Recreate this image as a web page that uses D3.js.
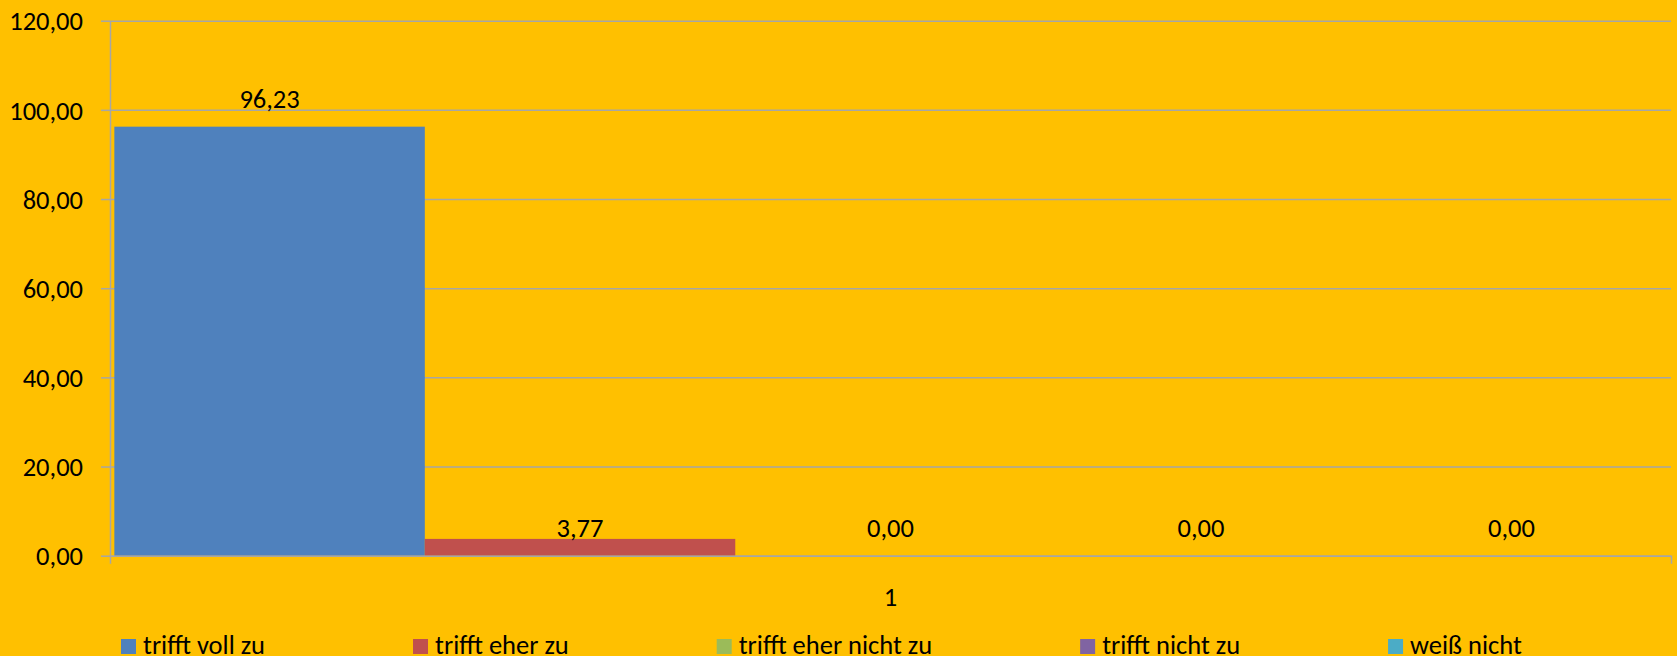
<!DOCTYPE html>
<html>
<head>
<meta charset="utf-8">
<script src="https://cdn.jsdelivr.net/npm/d3@7"></script>
<style>
  html, body { margin: 0; padding: 0; background: #FFC000; }
  svg { display: block; }
  text { font-family: Calibri, Carlito, Lato, sans-serif; fill: #000; }
</style>
</head>
<body>
<svg id="chart" width="1677" height="656"></svg>
<script>
// Chart data
const categories = ['1'];
const seriesNames = ['trifft voll zu', 'trifft eher zu', 'trifft eher nicht zu', 'trifft nicht zu', 'weiß nicht'];
const seriesValues = [96.23, 3.77, 0.00, 0.00, 0.00];
const seriesColors = ['#4F81BD', '#C0504D', '#9BBB59', '#8064A2', '#4BACC6'];
const yTicks = [0, 20, 40, 60, 80, 100, 120];

const WIDTH = 1677;
const HEIGHT = 656;
const margin = { top: 20.7, right: 6, bottom: 100.3, left: 110 };
const innerW = WIDTH - margin.left - margin.right;
const innerH = HEIGHT - margin.top - margin.bottom;
const FONT_SIZE = 26.5;
const GRID_COLOR = '#A6A6A6';
const LABEL_GAP = 19;

const de = d3.formatLocale({ decimal: ',', thousands: '.', grouping: [3], currency: ['', '€'] });
const fmt = de.format('.2f');

const svg = d3.select('#chart');
svg.append('rect').attr('width', WIDTH).attr('height', HEIGHT).attr('fill', '#FFC000');

const g = svg.append('g').attr('transform', `translate(${margin.left},${margin.top})`);

const y = d3.scaleLinear().domain([0, 120]).range([innerH, 0]);
const xCat = d3.scaleBand().domain(categories).range([0, innerW]);
const xSeries = d3.scaleBand()
    .domain(seriesNames)
    .range([0, xCat.bandwidth()])
    .paddingInner(0)
    .paddingOuter(0.014);

// gridlines
g.append('g')
    .attr('class', 'grid')
    .call(d3.axisLeft(y).tickValues(yTicks).tickSize(-innerW).tickFormat(''))
    .call(s => s.select('.domain').remove())
    .call(s => s.selectAll('line').attr('stroke', GRID_COLOR).attr('stroke-width', 1.5));

// bars
const bars = g.append('g').selectAll('g')
    .data(categories)
    .join('g')
    .attr('transform', d => `translate(${xCat(d)},0)`);

bars.selectAll('rect')
    .data(() => seriesNames.map((name, i) => ({ name, value: seriesValues[i], color: seriesColors[i] })))
    .join('rect')
    .attr('x', d => xSeries(d.name))
    .attr('y', d => y(d.value))
    .attr('width', xSeries.bandwidth())
    .attr('height', d => y(0) - y(d.value))
    .attr('fill', d => d.color);

// data labels: above the bar; short bars keep the label on the baseline position
bars.selectAll('text')
    .data(() => seriesNames.map((name, i) => ({ name, value: seriesValues[i] })))
    .join('text')
    .attr('x', d => xSeries(d.name) + xSeries.bandwidth() / 2)
    .attr('y', d => (y(0) - y(d.value) >= LABEL_GAP ? y(d.value) : y(0)) - LABEL_GAP)
    .attr('text-anchor', 'middle')
    .style('font-size', `${FONT_SIZE}px`)
    .text(d => fmt(d.value));

// y axis
g.append('g')
    .call(d3.axisLeft(y).tickValues(yTicks).tickSize(9).tickSizeOuter(0).tickPadding(18).tickFormat(fmt))
    .call(s => s.select('.domain').attr('stroke', GRID_COLOR).attr('stroke-width', 1.5))
    .call(s => s.selectAll('line').attr('stroke', GRID_COLOR).attr('stroke-width', 1.5))
    .call(s => s.selectAll('text')
        .attr('font-family', null)
        .style('font-size', `${FONT_SIZE}px`)
        .attr('dy', '0.35em'));

// x axis
g.append('g')
    .attr('transform', `translate(0,${innerH})`)
    .call(d3.axisBottom(xCat).tickSizeInner(0).tickSizeOuter(8).tickPadding(31))
    .call(s => s.select('.domain').attr('stroke', GRID_COLOR).attr('stroke-width', 1.5))
    .call(s => s.selectAll('.tick line').remove())
    .call(s => s.selectAll('text')
        .attr('font-family', null)
        .style('font-size', `${FONT_SIZE}px`));

// legend
const legend = svg.append('g').attr('class', 'legend');
const LEGEND_X = 121;
const LEGEND_Y = 639;
const SWATCH = 15;
const ITEM_GAP = 148;
let lx = LEGEND_X;
seriesNames.forEach((name, i) => {
    const item = legend.append('g').attr('transform', `translate(${lx},${LEGEND_Y})`);
    item.append('rect')
        .attr('width', SWATCH)
        .attr('height', SWATCH)
        .attr('fill', seriesColors[i]);
    const t = item.append('text')
        .attr('x', SWATCH + 7)
        .attr('y', SWATCH)
        .style('font-size', `${FONT_SIZE}px`)
        .text(name);
    lx += SWATCH + 7 + t.node().getComputedTextLength() + ITEM_GAP;
});
</script>
</body>
</html>
